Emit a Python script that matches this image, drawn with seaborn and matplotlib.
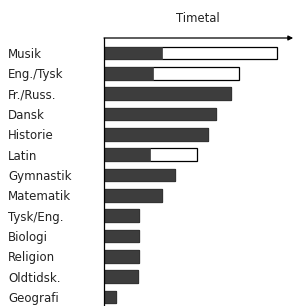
import matplotlib
matplotlib.use("Agg")
import matplotlib.pyplot as plt
import seaborn as sns
import pandas as pd

# subjects, top to bottom
fag = ["Musik", "Eng./Tysk", "Fr./Russ.", "Dansk", "Historie", "Latin",
       "Gymnastik", "Matematik", "Tysk/Eng.", "Biologi", "Religion",
       "Oldtidsk.", "Geografi"]
# dark part of each bar (timetal)
timer_fast = [5.0, 4.3, 11.0, 9.7, 9.0, 4.0, 6.2, 5.0, 3.0, 3.0, 3.0, 2.95, 1.0]
# full length including the open (white) part
timer_total = [15.0, 11.7, 11.0, 9.7, 9.0, 8.1, 6.2, 5.0, 3.0, 3.0, 3.0, 2.95, 1.0]

df = pd.DataFrame({"fag": fag, "fast": timer_fast, "total": timer_total})

sns.set_style("white")
plt.rcParams["font.family"] = ["DejaVu Sans"]

fig = plt.figure(figsize=(2.96, 3.06), dpi=100)
ax = fig.add_axes([104 / 296, 0.0, 192 / 296, 1 - 38 / 306])

# open bars first, then the dark part on top
sns.barplot(data=df, y="fag", x="total", orient="h", color="white",
            edgecolor="black", linewidth=0.9, width=0.63, ax=ax)
sns.barplot(data=df, y="fag", x="fast", orient="h", color="#3d3d3d",
            edgecolor="#3d3d3d", linewidth=0.5, width=0.63, ax=ax)

ax.set_xlim(0, 192 / 11.5)
ax.set_ylim(12.44, -0.74)

# axis line with arrow at the top
ax.annotate("", xy=(16.45, -0.74), xytext=(0, -0.74),
            arrowprops=dict(arrowstyle="-|>", color="black", lw=0.9,
                            mutation_scale=7, shrinkA=0, shrinkB=0),
            annotation_clip=False)
ax.text(0.49, 1.071, "Timetal", transform=ax.transAxes, ha="center",
        va="center", fontsize=8.4, color="#222222")

for s in ["top", "right", "bottom"]:
    ax.spines[s].set_visible(False)
ax.spines["left"].set_color("black")
ax.spines["left"].set_linewidth(0.9)

ax.set_xticks([])
ax.set_xlabel("")
ax.set_ylabel("")
ax.tick_params(axis="y", length=0, pad=96 * 72 / 100, labelsize=8.5,
               labelcolor="#222222")
for lab in ax.get_yticklabels():
    lab.set_ha("left")

fig.savefig("out.png", dpi=100)
